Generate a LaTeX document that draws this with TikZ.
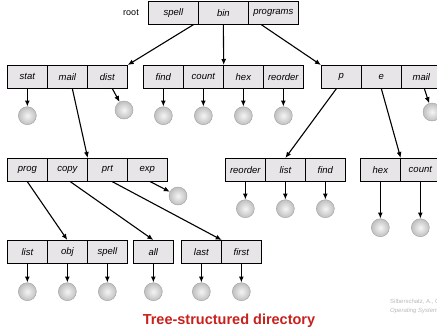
\documentclass[tikz,border=0pt]{standalone}
\usepackage{fontspec}
\setmainfont{Liberation Sans}
\usetikzlibrary{arrows.meta}
\definecolor{cellgray}{RGB}{231,229,231}
\definecolor{titlered}{RGB}{200,32,28}
\tikzset{
  cell/.style={draw, line width=0.7pt, fill=cellgray, minimum width=40pt, minimum height=23pt,
    inner sep=0pt, anchor=north west, font=\fontsize{9.5}{11}\selectfont\itshape},
  leaf/.style={circle, minimum size=18pt, inner sep=0pt, draw=gray!75, line width=0.4pt,
    shading=radial, inner color=gray!8, outer color=gray!50},
  arr/.style={line width=1.1pt, -{Latex[length=6pt,width=5pt]}}
}
\newcommand{\drawdirbox}[5][40]{
  \foreach \lbl [count=\i] in {#5} {
    \node[cell, minimum width=#1pt] (#2-\i) at ({#3+#1*(\i-1)},#4) {\lbl};
  }
}
\newcommand{\drawfiles}[2]{
  \foreach \f in {#1} {
    \node[leaf] (\f-f) at ([yshift=-#2pt]\f.south) {};
    \draw[arr] (\f) -- (\f-f);
  }
}
\begin{document}
\begin{tikzpicture}[x=1pt,y=-1pt]
\useasboundingbox (0,0) rectangle (437,335);
% root level
\node (rootlbl) at (131,13) {\fontsize{9}{10}\selectfont root};
\drawdirbox[50]{droot}{148}{1}{spell,bin,programs}
% second level
\drawdirbox{dspell}{7}{65}{stat,mail,dist}
\drawdirbox{dbin}{143}{65}{find,count,hex,reorder}
\drawdirbox{dprograms}{321}{65}{p,e,mail}
% third level
\drawdirbox{dmail}{7}{158}{prog,copy,prt,exp}
\drawdirbox{dp}{225}{158}{reorder,list,find}
\drawdirbox{de}{360}{158}{hex,count}
% fourth level
\drawdirbox{dprog}{7}{240}{list,obj,spell}
\drawdirbox{dcopy}{133}{240}{all}
\drawdirbox{dprt}{181}{240}{last,first}

% subdirectories
\draw[arr] ([xshift=20pt]droot-1.south) -- (dspell-3.north east);
\draw[arr] (droot-2.south) -- (dbin-2.north east);
\draw[arr] ([xshift=-12pt]droot-3.south) -- (dprograms-1.north west);
\draw[arr] ([xshift=5pt]dspell-2.south) -- (dmail-2.north east);
\draw[arr] ([xshift=-5pt]dprograms-1.south) -- (dp-2.north);
\draw[arr] (dprograms-2.south) -- (de-1.north east);
\draw[arr] (dmail-1.south) -- (dprog-2.north);
\draw[arr] ([xshift=3pt]dmail-2.south) -- (dcopy-1.north);
\draw[arr] ([xshift=5pt]dmail-3.south) -- (dprt-1.north east);

% files
\drawfiles{dspell-1,dbin-1,dbin-2,dbin-3,dbin-4}{27}
\drawfiles{dp-1,dp-2,dp-3}{27}
\drawfiles{de-1,de-2}{46}
\drawfiles{dprog-1,dprog-2,dprog-3,dcopy-1,dprt-1,dprt-2}{28}
\node[leaf] (dspell-3-f) at (124,110) {};
\draw[arr] ([xshift=5pt]dspell-3.south) -- (dspell-3-f);
\node[leaf] (dprograms-3-f) at (432,112) {};
\draw[arr] ([xshift=3pt]dprograms-3.south) -- (dprograms-3-f);
\node[leaf] (dmail-4-f) at (178,196) {};
\draw[arr] ([xshift=3pt]dmail-4.south) -- (dmail-4-f);

% caption
\node[text=titlered, font=\bfseries\fontsize{14.5}{16}\selectfont] (title) at (229,321) {Tree-structured directory};
\node[anchor=west, text=gray!55, font=\fontsize{6}{7}\selectfont, inner sep=0pt] (credit1) at (390,302) {Silberschatz, A., Galvin};
\node[anchor=west, text=gray!55, font=\fontsize{6}{7}\selectfont\itshape, inner sep=0pt] (credit2) at (390,311) {Operating System Concepts};
\end{tikzpicture}
\end{document}
